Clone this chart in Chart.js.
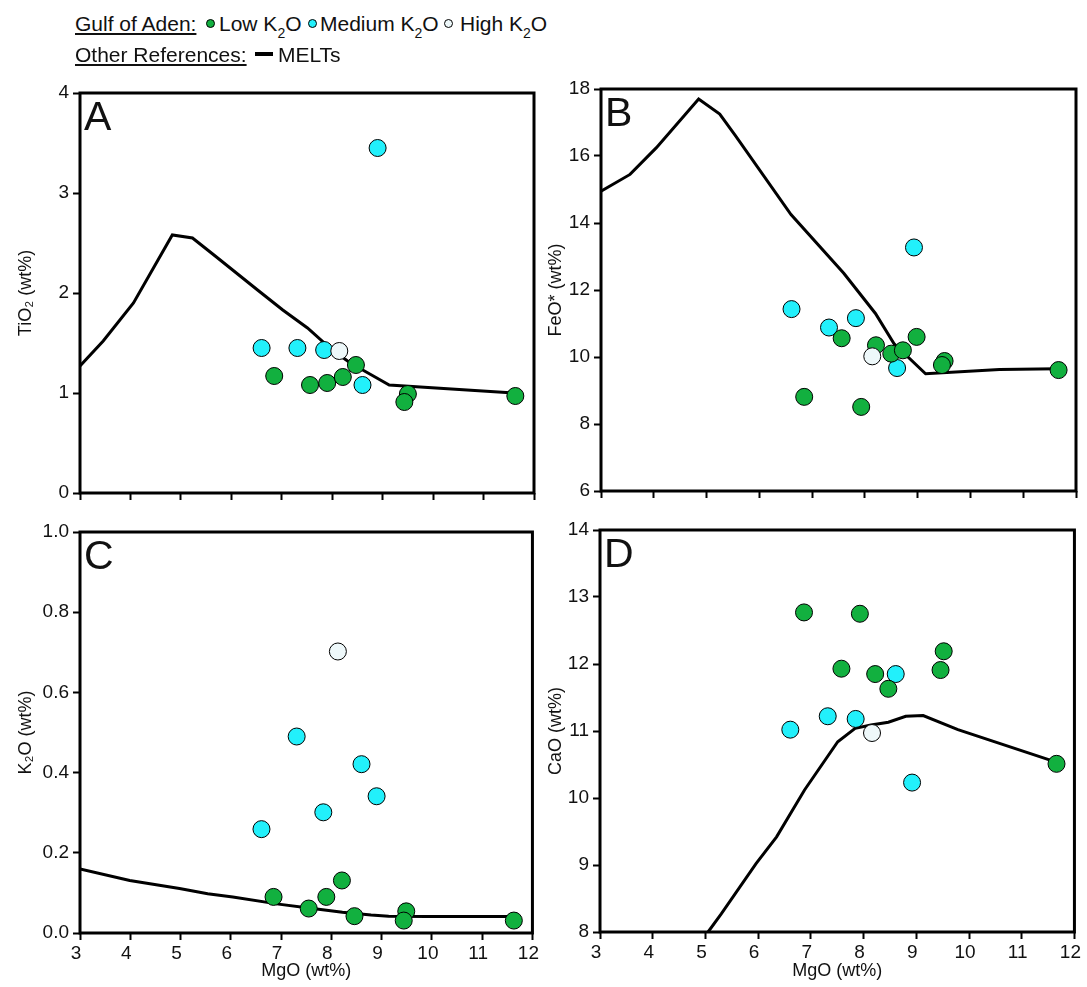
<!DOCTYPE html>
<html>
<head>
<meta charset="utf-8">
<script src="https://cdn.jsdelivr.net/npm/chart.js@4.4.1/dist/chart.umd.min.js"></script>
<style>
  body { margin: 0; background: #fff; font-family: "Liberation Sans", Arial, sans-serif; }
  #page { position: relative; width: 1087px; height: 987px; overflow: hidden; }
  #page canvas { position: absolute; }
  .lg { position: absolute; font-size: 21px; line-height: 24px; color: #111; white-space: nowrap; }
  .lg sub { font-size: 14px; vertical-align: -7px; line-height: 0; }
  .u { text-decoration: underline; text-decoration-thickness: 2px; text-underline-offset: 2px; }
  .dot { position: absolute; width: 9px; height: 9px; border-radius: 50%; border: 1px solid #000; box-sizing: border-box; }
  .melt { position: absolute; left: 255px; top: 52px; width: 18px; height: 4px; background: #000; }
</style>
</head>
<body>
<div id="page">
  <canvas id="chartA" width="545" height="450" style="left:0;top:60px"></canvas>
  <canvas id="chartB" width="542" height="450" style="left:545px;top:60px"></canvas>
  <canvas id="chartC" width="545" height="477" style="left:0;top:510px"></canvas>
  <canvas id="chartD" width="542" height="477" style="left:545px;top:510px"></canvas>

  <!-- legend -->
  <div class="lg u" style="left:75px;top:12px">Gulf of Aden:</div>
  <div class="dot" style="left:206px;top:19px;background:#12b03f"></div>
  <div class="lg" style="left:219px;top:12px">Low K<sub>2</sub>O</div>
  <div class="dot" style="left:308px;top:19px;background:#22f0fb"></div>
  <div class="lg" style="left:320px;top:12px">Medium K<sub>2</sub>O</div>
  <div class="dot" style="left:444px;top:19px;background:#eef8fa"></div>
  <div class="lg" style="left:460px;top:12px">High K<sub>2</sub>O</div>
  <div class="lg u" style="left:75px;top:43px">Other References:</div>
  <div class="melt"></div>
  <div class="lg" style="left:278px;top:43px">MELTs</div>
</div>

<script>
// ── Data: A — TiO2 vs MgO ──
const aLowMgO = [6.85, 7.56, 7.90, 8.21, 8.47, 9.50, 9.43, 11.63];
const aLowTiO2 = [1.17, 1.08, 1.10, 1.16, 1.28, 0.99, 0.91, 0.97];
const aMedMgO = [6.60, 7.31, 7.84, 8.60, 8.90];
const aMedTiO2 = [1.45, 1.45, 1.43, 1.08, 3.45];
const aHighMgO = [8.14];
const aHighTiO2 = [1.42];
const aMeltsMgO = [3.0, 3.46, 4.06, 4.83, 5.23, 5.68, 6.52, 7.02, 7.51, 8.0, 8.36, 8.78, 9.13, 11.6];
const aMeltsTiO2 = [1.27, 1.52, 1.9, 2.58, 2.55, 2.37, 2.03, 1.83, 1.65, 1.43, 1.3, 1.18, 1.08, 1.0];

// ── Data: B — FeO* vs MgO ──
const bLowMgO = [6.85, 7.56, 7.93, 8.21, 8.50, 8.72, 8.98, 9.51, 9.46, 11.67];
const bLowFeO = [8.81, 10.56, 8.51, 10.35, 10.10, 10.20, 10.60, 9.88, 9.76, 9.61];
const bMedMgO = [6.61, 7.32, 7.83, 8.93, 8.61];
const bMedFeO = [11.43, 10.88, 11.16, 13.27, 9.67];
const bHighMgO = [8.14];
const bHighFeO = [10.02];
const bMeltsMgO = [3.0, 3.55, 4.05, 4.85, 5.25, 5.55, 6.6, 7.6, 8.2, 8.55, 9.15, 10.55, 11.65];
const bMeltsFeO = [14.95, 15.45, 16.25, 17.7, 17.25, 16.6, 14.25, 12.5, 11.3, 10.4, 9.5, 9.63, 9.65];

// ── Data: C — K2O vs MgO ──
const cLowMgO = [6.85, 7.55, 7.90, 8.21, 8.46, 9.49, 9.44, 11.63];
const cLowK2O = [0.09, 0.061, 0.09, 0.131, 0.042, 0.054, 0.031, 0.031];
const cMedMgO = [6.61, 7.31, 7.84, 8.60, 8.90];
const cMedK2O = [0.259, 0.49, 0.301, 0.421, 0.341];
const cHighMgO = [8.13];
const cHighK2O = [0.702];
const cMeltsMgO = [3.0, 3.99, 4.98, 5.54, 6.04, 6.95, 7.59, 8.22, 8.79, 9.14, 9.92, 11.61];
const cMeltsK2O = [0.16, 0.131, 0.111, 0.098, 0.09, 0.072, 0.062, 0.052, 0.045, 0.042, 0.041, 0.041];

// ── Data: D — CaO vs MgO ──
const dLowMgO = [6.87, 7.58, 7.93, 8.22, 8.47, 9.46, 9.52, 11.66];
const dLowCaO = [12.77, 11.93, 12.75, 11.85, 11.63, 11.91, 12.19, 10.51];
const dMedMgO = [6.61, 7.32, 7.85, 8.61, 8.92];
const dMedCaO = [11.02, 11.22, 11.18, 11.85, 10.23];
const dHighMgO = [8.16];
const dHighCaO = [10.97];
const dMeltsMgO = [5.05, 5.3, 5.96, 6.35, 6.88, 7.51, 7.84, 8.14, 8.47, 8.8, 9.13, 9.79, 11.64];
const dMeltsCaO = [8.0, 8.27, 9.02, 9.42, 10.12, 10.84, 11.04, 11.09, 11.13, 11.22, 11.23, 11.02, 10.54];

// ── Style ──
const GREEN = "#12b03f", CYAN = "#22f0fb", WHITE = "#eef8fa";
const FONT = "'Liberation Sans', Arial, sans-serif";
Chart.defaults.font.family = FONT;
Chart.defaults.color = "#111";

const pts = (xs, ys) => xs.map((x, i) => ({ x, y: ys[i] }));

// box round the plot area + panel letter
const framePlugin = {
  id: "frame",
  afterDraw(chart, args, opts) {
    const { ctx, chartArea: a } = chart;
    ctx.save();
    ctx.strokeStyle = "#000";
    ctx.lineWidth = 3;
    ctx.strokeRect(a.left, a.top, a.right - a.left, a.bottom - a.top);
    ctx.fillStyle = "#111";
    ctx.font = "41px " + FONT;
    ctx.textBaseline = "alphabetic";
    ctx.fillText(opts.letter, a.left + 4, a.top + 37);
    ctx.restore();
  },
};

function marks(color, order) {
  return { backgroundColor: color, borderColor: "#000", borderWidth: 1, pointRadius: 8.5, pointHoverRadius: 8.5, order };
}

function panel(id, o) {
  return new Chart(document.getElementById(id), {
    type: "scatter",
    data: {
      datasets: [
        { label: "High K2O", data: pts(o.highX, o.highY), ...marks(WHITE, 0) },
        { label: "Low K2O", data: pts(o.lowX, o.lowY), ...marks(GREEN, 1) },
        { label: "Medium K2O", data: pts(o.medX, o.medY), ...marks(CYAN, 2) },
        {
          label: "MELTs",
          data: pts(o.meltX, o.meltY),
          showLine: true,
          pointRadius: 0,
          borderColor: "#000",
          borderWidth: 3,
          tension: 0,
          order: 3,
        },
      ],
    },
    options: {
      responsive: false,
      animation: false,
      events: [],
      layout: { padding: o.pad },
      plugins: { legend: { display: false }, tooltip: { enabled: false }, frame: { letter: o.letter } },
      scales: {
        x: {
          type: "linear",
          min: 3,
          max: 12,
          ticks: { stepSize: 1, display: o.xLabels, font: { size: 19 }, padding: 2, labelOffset: -4, maxRotation: 0 },
          grid: { drawOnChartArea: false, drawTicks: true, tickLength: 7, tickWidth: 2, color: "#000" },
          border: { display: false },
          title: { display: o.xLabels, text: "MgO (wt%)", font: { size: 18 }, padding: { top: 0, bottom: 5 } },
          afterFit: (s) => { s.height = o.xH; },
        },
        y: {
          type: "linear",
          min: o.ymin,
          max: o.ymax,
          ticks: { stepSize: o.ystep, font: { size: 19 }, padding: 4, callback: o.fmt },
          grid: { drawOnChartArea: false, drawTicks: true, tickLength: 7, tickWidth: 2, color: "#000" },
          border: { display: false },
          title: { display: true, text: o.ytitle, font: { size: 18 }, padding: { top: o.tPad, bottom: 0 } },
          afterFit: (s) => { s.width = o.yW; },
        },
      },
    },
    plugins: [framePlugin],
  });
}

const plain = (v) => String(Math.round(v));

panel("chartA", {
  letter: "A", ytitle: "TiO₂ (wt%)", ymin: 0, ymax: 4, ystep: 1, fmt: plain,
  lowX: aLowMgO, lowY: aLowTiO2, medX: aMedMgO, medY: aMedTiO2, highX: aHighMgO, highY: aHighTiO2,
  meltX: aMeltsMgO, meltY: aMeltsTiO2,
  pad: { top: 33, right: 11, left: 0, bottom: 0 }, yW: 80, xH: 17, tPad: 15, xLabels: false,
});

panel("chartB", {
  letter: "B", ytitle: "FeO* (wt%)", ymin: 6, ymax: 18, ystep: 2, fmt: plain,
  lowX: bLowMgO, lowY: bLowFeO, medX: bMedMgO, medY: bMedFeO, highX: bHighMgO, highY: bHighFeO,
  meltX: bMeltsMgO, meltY: bMeltsFeO,
  pad: { top: 29, right: 11, left: 0, bottom: 0 }, yW: 56, xH: 19, tPad: 0, xLabels: false,
});

panel("chartC", {
  letter: "C", ytitle: "K₂O (wt%)", ymin: 0, ymax: 1, ystep: 0.2, fmt: (v) => v.toFixed(1),
  lowX: cLowMgO, lowY: cLowK2O, medX: cMedMgO, medY: cMedK2O, highX: cHighMgO, highY: cHighK2O,
  meltX: cMeltsMgO, meltY: cMeltsK2O,
  pad: { top: 22, right: 12, left: 0, bottom: 0 }, yW: 80, xH: 54, tPad: 15, xLabels: true,
});

panel("chartD", {
  letter: "D", ytitle: "CaO (wt%)", ymin: 8, ymax: 14, ystep: 1, fmt: plain,
  lowX: dLowMgO, lowY: dLowCaO, medX: dMedMgO, medY: dMedCaO, highX: dHighMgO, highY: dHighCaO,
  meltX: dMeltsMgO, meltY: dMeltsCaO,
  pad: { top: 20, right: 11, left: 0, bottom: 0 }, yW: 55, xH: 55, tPad: 0, xLabels: true,
});
</script>
</body>
</html>
